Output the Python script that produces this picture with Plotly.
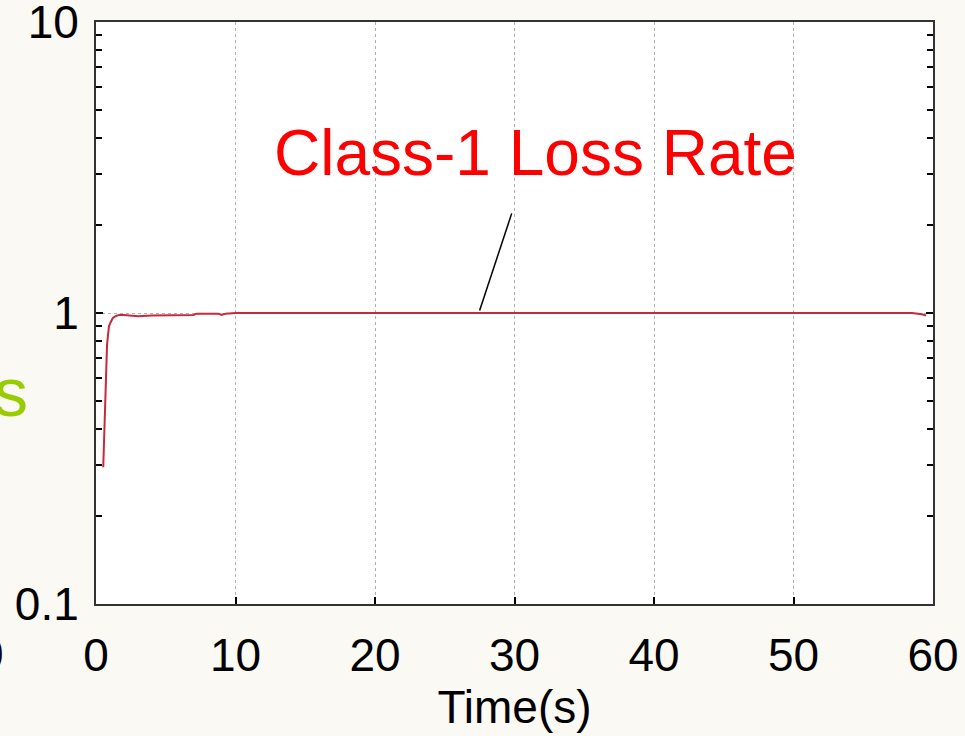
import plotly.graph_objects as go

# Class-1 loss rate over time
time_s = [0.52, 0.55, 0.61, 0.66, 0.72, 0.79, 0.86, 0.93, 1.05, 1.2, 1.4, 1.65, 2.0, 3.0,
          4.0, 5.0, 6.0, 7.0, 7.2, 8.0, 8.8, 9.0, 9.3, 10.0, 20.0, 30.0, 40.0, 50.0,
          58.5, 59.2, 59.5]
loss_rate = [0.295, 0.33, 0.445, 0.50, 0.587, 0.774, 0.84, 0.90, 0.93, 0.96, 0.975, 0.985,
             0.985, 0.975, 0.98, 0.98, 0.98, 0.985, 0.995, 0.995, 0.995, 0.985, 0.995, 1.0,
             1.0, 1.0, 1.0, 1.0, 1.0, 0.99, 0.98]

# pointer line from label to the curve
pointer_t = [27.5, 29.8]
pointer_v = [1.02, 2.2]

x_ticks = [0, 10, 20, 30, 40, 50, 60]
y_ticks = [0.1, 1, 10]
y_tick_text = ["0.1", "1", "10"]
y_minor = [0.2, 0.3, 0.4, 0.5, 0.6, 0.7, 0.8, 0.9, 2, 3, 4, 5, 6, 7, 8, 9]

FONT = "Liberation Sans, Arial, sans-serif"

L, T, R, B = 96, 22, 32, 132
W, H = 965, 736
PW, PH = W - L - R, H - T - B

def px_x(x):
    return (x - L) / PW

def px_y(y):
    return (H - B - y) / PH

fig = go.Figure()
fig.add_trace(go.Scatter(x=time_s, y=loss_rate, mode="lines",
                         line=dict(color="#c8283c", width=2), showlegend=False))
fig.add_trace(go.Scatter(x=pointer_t, y=pointer_v, mode="lines",
                         line=dict(color="black", width=1.5), showlegend=False))

fig.add_annotation(text="Class-1 Loss Rate", xref="paper", yref="paper",
                   x=px_x(535), y=px_y(153), xanchor="center", yanchor="middle",
                   showarrow=False, font=dict(family=FONT, size=64, color="#ff0000"))
fig.add_annotation(text="s", xref="paper", yref="paper",
                   x=px_x(11), y=px_y(392), xanchor="center", yanchor="middle",
                   showarrow=False, font=dict(family=FONT, size=68, color="#99cc00"))
fig.add_annotation(text="0", xref="paper", yref="paper",
                   x=px_x(-9), y=px_y(654), xanchor="center", yanchor="middle",
                   showarrow=False, font=dict(family=FONT, size=46, color="black"))

fig.update_layout(
    width=W, height=H,
    margin=dict(l=L, r=R, t=T, b=B),
    paper_bgcolor="#fbf9f4",
    plot_bgcolor="white",
    font=dict(family=FONT, size=46, color="black"),
    xaxis=dict(range=[0, 60], tickvals=x_ticks, ticks="inside", ticklen=7, tickwidth=1.5,
               tickcolor="black", showline=True, linecolor="#333", linewidth=2, mirror=True,
               showgrid=True, gridcolor="#b0b0b0", griddash="dot", gridwidth=1,
               zeroline=False, ticklabelstandoff=10, automargin=False,
               ticklabeloverflow="allow",
               title=dict(text="Time(s)", standoff=6, font=dict(size=46))),
    yaxis=dict(type="log", range=[-1, 1.0001], tickvals=y_ticks, ticktext=y_tick_text,
               ticks="inside", ticklen=7, tickwidth=1.5, tickcolor="black",
               showline=True, linecolor="#333", linewidth=2, mirror="ticks",
               showgrid=True, gridcolor="#b0b0b0", griddash="dot", gridwidth=1,
               zeroline=False, ticklabelstandoff=6, automargin=False,
               ticklabeloverflow="allow",
               minor=dict(tickvals=y_minor, ticks="inside", ticklen=6, tickwidth=1.5,
                          tickcolor="black", showgrid=False)),
)

fig.write_html("out.html", config={"displayModeBar": False},
               post_script="document.body.style.margin='0';document.body.style.background='#fbf9f4';")
